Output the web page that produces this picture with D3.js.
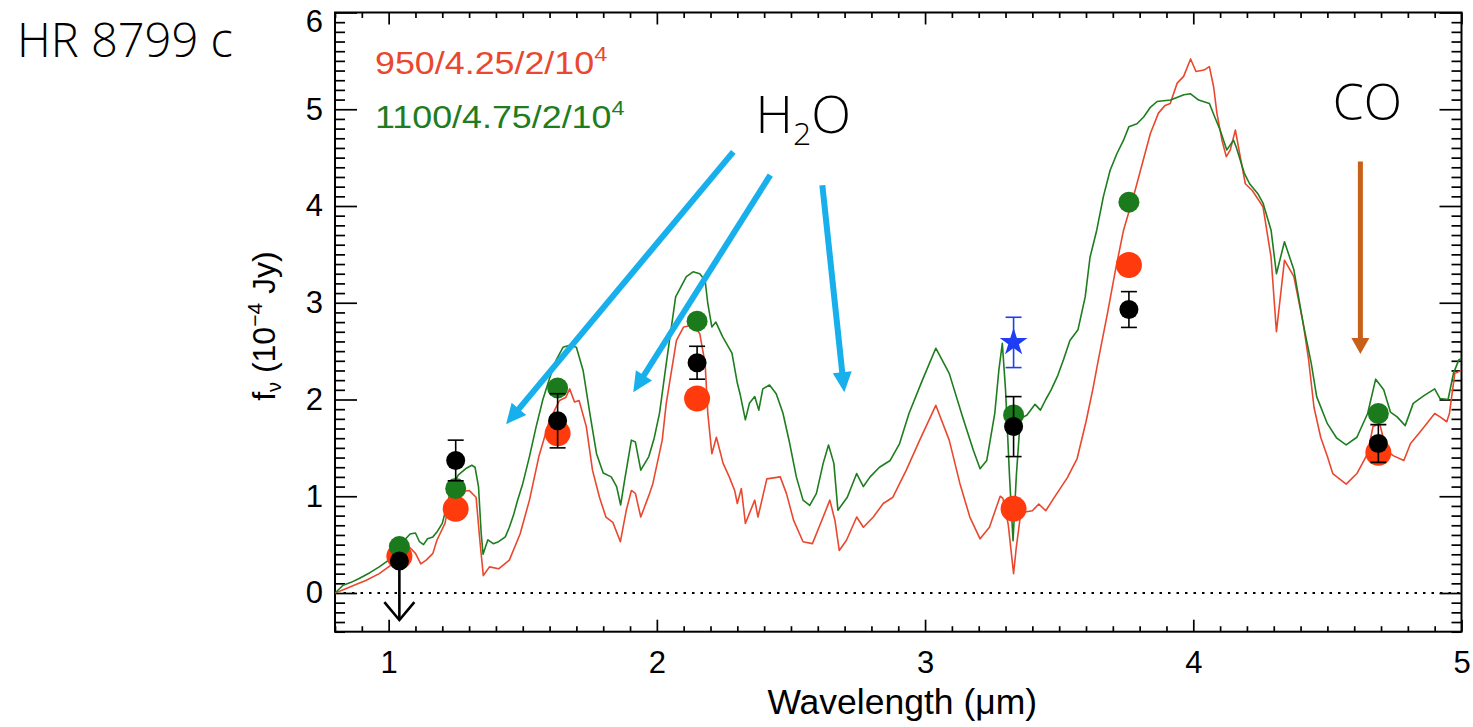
<!DOCTYPE html>
<html>
<head>
<meta charset="utf-8">
<script src="https://cdn.jsdelivr.net/npm/d3@7"></script>
<style>
  body { margin: 0; background: #fff; }
  svg { display: block; }
</style>
</head>
<body>
<svg id="chart" width="1473" height="727"></svg>
<script>
// ---- Model spectra: wavelength (micron) and flux density (1e-4 Jy) ----
const redWave = [0.80,0.84,0.88,0.915,0.965,1.015,1.05,1.077,1.10,1.12,1.14,1.165,1.18,1.21,1.227,1.264,1.30,1.326,1.34,1.353,1.376,1.41,1.45,1.49,1.525,1.56,1.60,1.637,1.66,1.675,1.693,1.71,1.737,1.76,1.786,1.81,1.836,1.864,1.886,1.905,1.92,1.94,1.973,1.985,2.02,2.035,2.073,2.10,2.135,2.16,2.18,2.19,2.205,2.222,2.247,2.27,2.29,2.30,2.315,2.33,2.365,2.377,2.41,2.46,2.483,2.51,2.545,2.58,2.62,2.645,2.664,2.68,2.707,2.745,2.77,2.807,2.844,2.88,2.93,2.98,3.04,3.09,3.13,3.167,3.205,3.24,3.28,3.29,3.31,3.33,3.34,3.357,3.40,3.424,3.45,3.48,3.53,3.567,3.60,3.625,3.646,3.68,3.71,3.74,3.78,3.81,3.84,3.87,3.895,3.914,3.94,3.964,3.99,4.01,4.04,4.06,4.076,4.088,4.107,4.123,4.138,4.157,4.175,4.194,4.22,4.244,4.26,4.29,4.31,4.34,4.375,4.41,4.43,4.45,4.475,4.50,4.52,4.57,4.61,4.65,4.67,4.695,4.72,4.745,4.785,4.81,4.85,4.90,4.92,4.945,4.955,4.975,5.00];
const redFlux = [0.00,0.045,0.09,0.13,0.20,0.30,0.39,0.475,0.41,0.30,0.34,0.41,0.545,0.72,0.96,1.045,1.06,0.99,0.545,0.18,0.27,0.25,0.34,0.61,0.96,1.41,1.785,1.99,2.02,2.11,1.975,1.99,1.72,1.27,0.99,0.785,0.73,0.53,0.855,1.06,1.03,0.785,1.03,1.13,1.58,1.96,2.61,2.75,2.77,2.68,2.37,1.855,1.44,1.61,1.34,1.20,1.06,0.925,1.08,0.72,0.96,0.785,1.18,1.20,1.03,0.75,0.53,0.51,0.785,0.96,0.75,0.44,0.545,0.785,0.68,0.785,0.925,0.99,1.27,1.58,1.94,1.58,1.13,0.785,0.56,0.68,1.00,0.98,0.71,0.20,0.47,0.83,0.85,0.92,0.85,0.98,1.19,1.39,1.77,2.10,2.41,2.89,3.34,3.75,4.13,4.44,4.75,4.96,5.04,5.06,5.27,5.34,5.52,5.39,5.405,5.44,5.23,4.96,4.68,4.51,4.58,4.785,4.51,4.23,4.16,4.06,3.99,3.47,2.70,3.44,3.27,2.785,2.41,1.92,1.61,1.41,1.235,1.125,1.235,1.44,1.72,1.75,1.475,1.42,1.37,1.545,1.68,1.855,1.82,1.77,1.855,2.27,2.30];

const greenWave = [0.80,0.83,0.86,0.89,0.93,0.965,1.00,1.03,1.06,1.08,1.10,1.115,1.13,1.145,1.165,1.18,1.20,1.215,1.235,1.26,1.29,1.31,1.322,1.335,1.345,1.352,1.37,1.39,1.41,1.435,1.45,1.465,1.48,1.50,1.525,1.55,1.575,1.60,1.625,1.65,1.675,1.70,1.725,1.75,1.775,1.80,1.83,1.85,1.865,1.88,1.905,1.92,1.94,1.97,1.99,2.01,2.035,2.07,2.11,2.135,2.16,2.18,2.19,2.205,2.22,2.245,2.28,2.30,2.31,2.33,2.345,2.365,2.38,2.395,2.42,2.445,2.47,2.495,2.52,2.545,2.57,2.595,2.62,2.64,2.66,2.675,2.71,2.745,2.77,2.795,2.83,2.87,2.905,2.94,2.99,3.04,3.09,3.14,3.18,3.205,3.23,3.26,3.275,3.288,3.30,3.315,3.328,3.34,3.355,3.38,3.41,3.43,3.45,3.47,3.495,3.516,3.54,3.57,3.597,3.615,3.64,3.665,3.69,3.715,3.74,3.76,3.79,3.815,3.84,3.865,3.915,3.965,3.99,4.02,4.06,4.08,4.10,4.125,4.15,4.16,4.19,4.21,4.24,4.26,4.29,4.31,4.34,4.375,4.41,4.44,4.46,4.50,4.535,4.57,4.61,4.65,4.68,4.71,4.735,4.76,4.79,4.82,4.86,4.90,4.92,4.95,4.97,4.99,5.00];
const greenFlux = [0.00,0.08,0.11,0.15,0.21,0.27,0.34,0.42,0.55,0.61,0.62,0.53,0.50,0.56,0.58,0.63,0.72,0.88,1.10,1.22,1.29,1.32,1.30,1.10,0.62,0.40,0.55,0.51,0.53,0.58,0.68,0.80,0.95,1.13,1.41,1.72,2.00,2.22,2.41,2.54,2.56,2.54,2.30,1.86,1.44,1.24,1.20,1.10,0.91,1.17,1.58,1.56,1.27,1.41,1.60,1.86,2.37,3.06,3.27,3.32,3.30,3.23,2.99,2.75,2.80,2.65,2.48,2.17,2.06,1.79,1.96,2.03,1.89,2.11,2.15,2.06,1.86,1.55,1.20,0.96,0.905,1.03,1.34,1.53,1.34,0.855,0.99,1.235,1.10,1.20,1.30,1.37,1.545,1.855,2.20,2.53,2.27,1.82,1.475,1.285,1.37,1.86,2.30,2.58,2.10,1.20,0.54,1.20,1.80,1.84,1.95,1.89,2.00,2.10,2.25,2.41,2.61,2.72,3.06,3.47,3.75,4.10,4.37,4.54,4.68,4.82,4.85,4.92,5.02,5.08,5.095,5.15,5.16,5.095,5.06,4.92,4.785,4.58,4.68,4.61,4.34,4.23,4.13,4.03,3.75,3.30,3.63,3.34,2.78,2.37,2.03,1.75,1.60,1.53,1.61,1.855,2.21,2.10,1.87,1.82,1.73,1.96,2.04,2.11,2.01,2.00,2.27,2.41,2.42];

// ---- Photometry ----
const bandWave  = [1.04, 1.25, 1.63, 2.15, 3.33, 3.76, 4.69];
const redPhot   = [0.38, 0.87, 1.65, 2.01, 0.87, 3.39, 1.45];
const greenPhot = [0.48, 1.08, 2.12, 2.81, 1.84, 4.04, 1.855];
const obsFlux   = [0.33, 1.37, 1.78, 2.38, 1.72, 2.93, 1.545];
const obsErr    = [null, 0.21, 0.28, 0.17, 0.31, 0.185, 0.195];
const obsUpperLimit = [true, false, false, false, false, false, false];
const starWave = [3.33];
const starFlux = [2.59];
const starErr  = [0.26];

// ---- Axis ticks and legend text ----
const xMajorTicks = [1, 2, 3, 4, 5];
const yMajorTicks = [0, 1, 2, 3, 4, 5, 6];
const legendLabels = ["950/4.25/2/10", "1100/4.75/2/10"];
const legendPowers = ["4", "4"];

// ---- Colours ----
const RED_LINE = "#E9482F", GREEN_LINE = "#1E7D1E";
const RED_DOT = "#FF3A0C", GREEN_DOT = "#1B7A1B";
const ARROW_BLUE = "#17B0EC", ARROW_ORANGE = "#C8601A";
const STAR_BLUE = "#1F3DF5";
const AXIS_FONT = "'Liberation Sans', Arial, Helvetica, sans-serif";
const SLIDE_FONT = "'Open Sans', 'Noto Sans', sans-serif";

const svg = d3.select("#chart");
svg.append("rect").attr("width", 1473).attr("height", 727).attr("fill", "#fff");

const x = d3.scaleLinear().domain([0.8, 5.0]).range([335, 1461.5]);
const y = d3.scaleLinear().domain([-0.4, 6.0]).range([631.7, 12.5]);
const [x0, x1] = x.range();
const [yB, yT] = y.range();

svg.append("defs").append("clipPath").attr("id", "plotClip")
  .append("rect").attr("x", x0).attr("y", yT).attr("width", x1 - x0).attr("height", yB - yT);

// ---- Axes: ticks on all four sides, pointing inward ----
const xMinor = d3.range(8, 51).map(i => i / 10).filter(v => Math.abs(v - Math.round(v)) > 1e-6);
const yMinor = d3.range(-4, 61).map(i => i / 10).filter(v => Math.abs(v - Math.round(v)) > 1e-6);

function styleAxis(g) {
  g.select(".domain").remove();
  g.selectAll(".tick line").attr("stroke", "#000").attr("stroke-width", 1.7);
  g.selectAll(".tick text").attr("fill", "#000").attr("font-family", AXIS_FONT).attr("font-size", 31);
}

svg.append("g").attr("transform", `translate(0,${yB})`)
  .call(d3.axisBottom(x).tickValues(xMajorTicks).tickSize(-12).tickPadding(19).tickFormat(d3.format("d")))
  .call(styleAxis);
svg.append("g").attr("transform", `translate(0,${yB})`)
  .call(d3.axisBottom(x).tickValues(xMinor).tickSize(-5.5).tickFormat(""))
  .call(styleAxis);
svg.append("g").attr("transform", `translate(0,${yT})`)
  .call(d3.axisTop(x).tickValues(xMajorTicks).tickSize(-12).tickFormat(""))
  .call(styleAxis);
svg.append("g").attr("transform", `translate(0,${yT})`)
  .call(d3.axisTop(x).tickValues(xMinor).tickSize(-5.5).tickFormat(""))
  .call(styleAxis);

svg.append("g").attr("transform", `translate(${x0},0)`)
  .call(d3.axisLeft(y).tickValues(yMajorTicks).tickSize(-22).tickPadding(12).tickFormat(d3.format("d")))
  .call(styleAxis)
  // the top label would run off the page, so it sits just below its tick
  .call(g => g.selectAll(".tick text").filter(d => d === 6).attr("dy", "0.62em"));
svg.append("g").attr("transform", `translate(${x0},0)`)
  .call(d3.axisLeft(y).tickValues(yMinor).tickSize(-10).tickFormat(""))
  .call(styleAxis);
svg.append("g").attr("transform", `translate(${x1},0)`)
  .call(d3.axisRight(y).tickValues(yMajorTicks).tickSize(-22).tickFormat(""))
  .call(styleAxis);
svg.append("g").attr("transform", `translate(${x1},0)`)
  .call(d3.axisRight(y).tickValues(yMinor).tickSize(-10).tickFormat(""))
  .call(styleAxis);

// plot frame
svg.append("rect").attr("x", x0).attr("y", yT).attr("width", x1 - x0).attr("height", yB - yT)
  .attr("fill", "none").attr("stroke", "#000").attr("stroke-width", 2);

// zero level
svg.append("line").attr("x1", x0).attr("x2", x1).attr("y1", y(0)).attr("y2", y(0))
  .attr("stroke", "#000").attr("stroke-width", 2).attr("stroke-dasharray", "2.5,6");

// ---- Axis titles ----
svg.append("text").attr("x", (x0 + x1) / 2 + 4).attr("y", 714)
  .attr("text-anchor", "middle").attr("font-family", AXIS_FONT).attr("font-size", 35.5)
  .text("Wavelength (\u03bcm)");

const yTitle = svg.append("text")
  .attr("transform", `translate(275,${(yT + yB) / 2 + 4}) rotate(-90)`)
  .attr("text-anchor", "middle").attr("font-family", AXIS_FONT).attr("font-size", 32);
yTitle.append("tspan").text("f");
yTitle.append("tspan").attr("font-size", 20).attr("dy", 6).text("\u03bd");
yTitle.append("tspan").attr("dy", -6).text(" (10");
yTitle.append("tspan").attr("font-size", 21).attr("dy", -13).text("\u22124");
yTitle.append("tspan").attr("dy", 13).text(" Jy)");

// ---- Model spectra ----
const plot = svg.append("g").attr("clip-path", "url(#plotClip)");
const line = d3.line().x(d => x(d[0])).y(d => y(d[1]));
plot.append("path").datum(d3.zip(redWave, redFlux)).attr("d", line)
  .attr("fill", "none").attr("stroke", RED_LINE).attr("stroke-width", 1.6).attr("stroke-linejoin", "round");
plot.append("path").datum(d3.zip(greenWave, greenFlux)).attr("d", line)
  .attr("fill", "none").attr("stroke", GREEN_LINE).attr("stroke-width", 1.6).attr("stroke-linejoin", "round");

// ---- Synthetic photometry from the two models ----
plot.selectAll(".redPt").data(d3.zip(bandWave, redPhot)).join("circle")
  .attr("cx", d => x(d[0])).attr("cy", d => y(d[1])).attr("r", 13).attr("fill", RED_DOT);
plot.selectAll(".greenPt").data(d3.zip(bandWave, greenPhot)).join("circle")
  .attr("cx", d => x(d[0])).attr("cy", d => y(d[1])).attr("r", 10.5).attr("fill", GREEN_DOT);

// ---- Measured photometry ----
const obs = bandWave.map((w, i) => ({ w, f: obsFlux[i], e: obsErr[i], ul: obsUpperLimit[i] }));
const errG = plot.append("g").attr("stroke", "#000").attr("stroke-width", 1.6);
obs.filter(d => d.e != null).forEach(d => {
  const cx = x(d.w);
  errG.append("line").attr("x1", cx).attr("x2", cx).attr("y1", y(d.f - d.e)).attr("y2", y(d.f + d.e));
  [d.f - d.e, d.f + d.e].forEach(v => {
    errG.append("line").attr("x1", cx - 8).attr("x2", cx + 8).attr("y1", y(v)).attr("y2", y(v));
  });
});
// upper limit: arrow pointing down from the point
const limitTip = -0.28;
obs.filter(d => d.ul).forEach(d => {
  const cx = x(d.w), ty = y(limitTip);
  plot.append("line").attr("x1", cx).attr("x2", cx).attr("y1", y(d.f)).attr("y2", ty)
    .attr("stroke", "#000").attr("stroke-width", 2.6);
  plot.append("path").attr("d", `M${cx - 15},${ty - 18} L${cx},${ty} L${cx + 15},${ty - 18}`)
    .attr("fill", "none").attr("stroke", "#000").attr("stroke-width", 2.6);
});
plot.selectAll(".obsPt").data(obs).join("circle")
  .attr("cx", d => x(d.w)).attr("cy", d => y(d.f)).attr("r", 9.5).attr("fill", "#000");

// 3.3 micron measurement (star)
const starG = plot.append("g");
starWave.forEach((w, i) => {
  const cx = x(w), f = starFlux[i], e = starErr[i];
  starG.append("line").attr("x1", cx).attr("x2", cx).attr("y1", y(f - e)).attr("y2", y(f + e))
    .attr("stroke", STAR_BLUE).attr("stroke-width", 1.6);
  [f - e, f + e].forEach(v => starG.append("line").attr("x1", cx - 8).attr("x2", cx + 8)
    .attr("y1", y(v)).attr("y2", y(v)).attr("stroke", STAR_BLUE).attr("stroke-width", 1.6));
  starG.append("path").attr("d", d3.symbol(d3.symbolStar, 240)())
    .attr("transform", `translate(${cx},${y(f)})`).attr("fill", STAR_BLUE);
});

// ---- Legend ----
const legendColors = [RED_LINE, GREEN_LINE];
const legendRows = [74, 128];
legendLabels.forEach((lab, i) => {
  const t = svg.append("text").attr("x", 0).attr("y", 0)
    .attr("transform", `translate(375,${legendRows[i]}) scale(1.12,1)`)
    .attr("font-family", AXIS_FONT).attr("font-size", 32).attr("fill", legendColors[i]);
  t.append("tspan").text(lab);
  t.append("tspan").attr("font-size", 21).attr("dy", -13).text(legendPowers[i]);
});

// ---- Annotations ----
function arrow(g, p1, p2, color, width, headLen, headW) {
  const [ax, ay] = [x(p1[0]), y(p1[1])], [bx, by] = [x(p2[0]), y(p2[1])];
  const dx = bx - ax, dy = by - ay, L = Math.hypot(dx, dy), ux = dx / L, uy = dy / L;
  const hx = bx - ux * headLen, hy = by - uy * headLen;
  g.append("line").attr("x1", ax).attr("y1", ay).attr("x2", hx + ux * 2).attr("y2", hy + uy * 2)
    .attr("stroke", color).attr("stroke-width", width);
  g.append("path")
    .attr("d", `M${bx},${by} L${hx - uy * headW / 2},${hy + ux * headW / 2} L${hx + uy * headW / 2},${hy - ux * headW / 2} Z`)
    .attr("fill", color);
}
const ann = svg.append("g");
// water absorption bands
const waterArrows = [
  [[2.285, 4.56], [1.438, 1.745]],
  [[2.423, 4.32], [1.912, 2.075]],
  [[2.617, 4.215], [2.699, 2.075]]
];
waterArrows.forEach(([a, b]) => arrow(ann, a, b, ARROW_BLUE, 6, 20, 19));
// CO band head
arrow(ann, [4.623, 4.46], [4.623, 2.47], ARROW_ORANGE, 5, 16, 18);

const h2o = svg.append("text").attr("x", x(2.368)).attr("y", y(4.754))
  .attr("font-family", SLIDE_FONT).attr("font-weight", 300).attr("font-size", 52).attr("fill", "#000");
h2o.append("tspan").text("H");
h2o.append("tspan").attr("font-size", 32).attr("dy", 12).text("2");
h2o.append("tspan").attr("dy", -12).text("O");

svg.append("text").attr("x", x(4.52)).attr("y", y(4.89))
  .attr("font-family", SLIDE_FONT).attr("font-weight", 300).attr("font-size", 50).attr("fill", "#000")
  .text("CO");

svg.append("text").attr("x", 17).attr("y", 57)
  .attr("font-family", SLIDE_FONT).attr("font-weight", 300).attr("font-size", 47).attr("fill", "#000")
  .text("HR 8799 c");
</script>
</body>
</html>
